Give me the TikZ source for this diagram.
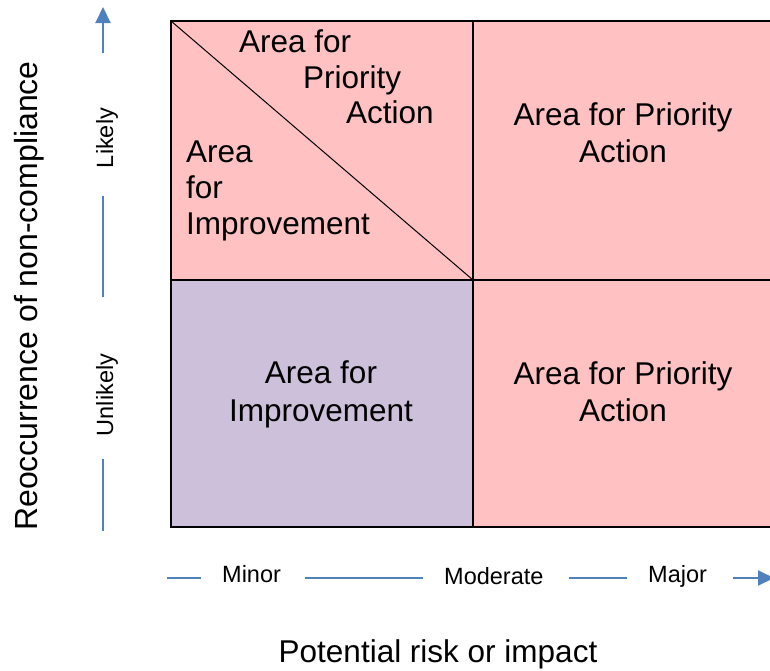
\documentclass[tikz,border=0pt]{standalone}
\usepackage{fontspec}
\setmainfont{Liberation Sans}
\usetikzlibrary{arrows.meta}
\definecolor{prio}{RGB}{255,193,193}
\definecolor{impr}{RGB}{204,192,218}
\definecolor{axisblue}{RGB}{79,129,189}
\begin{document}
\begin{tikzpicture}[x=1pt,y=-1pt,
  big/.style={inner sep=0pt,font=\fontsize{31.5}{36}\selectfont},
  small/.style={inner sep=0pt,font=\fontsize{23.5}{28}\selectfont},
  axisline/.style={draw=axisblue,line width=2pt},
  axisarrow/.style={axisline,-{Triangle[length=16pt,width=15pt]}},
  gridline/.style={draw=black,line width=2.2pt}]
\useasboundingbox (0,0) rectangle (770,670);
\clip (0,0) rectangle (770,670);

% quadrant coordinates
\coordinate (tl) at (171,21);
\coordinate (tm) at (473,21);
\coordinate (tr) at (780,21);
\coordinate (ml) at (171,280);
\coordinate (mm) at (473,280);
\coordinate (mr) at (780,280);
\coordinate (bl) at (171,527);
\coordinate (bm) at (473,527);
\coordinate (br) at (780,527);

% quadrant fills
\fill[prio] (tl) rectangle (mr);
\fill[prio] (mm) rectangle (br);
\fill[impr] (ml) rectangle (bm);

% split of the upper-left quadrant
\draw[line width=1pt] (tl) -- (mm);

% grid
\draw[gridline] (tr) -- (tl) -- (bl) -- (br);
\draw[gridline] (tm) -- (bm);
\draw[gridline] (ml) -- (mr);

% upper-left quadrant texts
\node[big,anchor=base west] (ulA) at (239,52) {Area for};
\node[big,anchor=base west] (ulB) at (303,88) {Priority};
\node[big,anchor=base west] (ulC) at (346,123) {Action};
\node[big,anchor=base west] (ulD) at (186,162) {Area};
\node[big,anchor=base west] (ulE) at (186,198) {for};
\node[big,anchor=base west] (ulF) at (186,234) {Improvement};

% upper-right quadrant
\node[big,anchor=base] (urA) at (623,125) {Area for Priority};
\node[big,anchor=base] (urB) at (623,162) {Action};

% lower-left quadrant
\node[big,anchor=base] (llA) at (321,383) {Area for};
\node[big,anchor=base] (llB) at (321,421) {Improvement};

% lower-right quadrant
\node[big,anchor=base] (lrA) at (623,384) {Area for Priority};
\node[big,anchor=base] (lrB) at (623,421) {Action};

% vertical axis
\node[inner sep=0pt,font=\fontsize{32}{36}\selectfont,anchor=base,rotate=90] (ytitle) at (37,296) {Reoccurrence of non-compliance};
\node[small,anchor=base,rotate=90] (likely) at (113,138) {Likely};
\node[small,anchor=base,rotate=90] (unlikely) at (113,395) {Unlikely};
\coordinate (ya0) at (103,531);
\coordinate (ya1) at (103,459);
\coordinate (ya2) at (103,297);
\coordinate (ya3) at (103,196);
\coordinate (ya4) at (103,53);
\coordinate (ya5) at (103,7);
\draw[axisline] (ya0) -- (ya1);
\draw[axisline] (ya2) -- (ya3);
\draw[axisarrow] (ya4) -- (ya5);

% horizontal axis
\node[small,anchor=base west] (minor) at (222,582) {Minor};
\node[small,anchor=base west] (moderate) at (444,584) {Moderate};
\node[small,anchor=base west] (major) at (648,582) {Major};
\node[big,anchor=base] (xtitle) at (438,662) {Potential risk or impact};
\coordinate (xa0) at (167,578);
\coordinate (xa1) at (201,578);
\coordinate (xa2) at (305,578);
\coordinate (xa3) at (423,578);
\coordinate (xa4) at (569,578);
\coordinate (xa5) at (627,578);
\coordinate (xa6) at (733,578);
\coordinate (xa7) at (774,578);
\draw[axisline] (xa0) -- (xa1);
\draw[axisline] (xa2) -- (xa3);
\draw[axisline] (xa4) -- (xa5);
\draw[axisarrow] (xa6) -- (xa7);
\end{tikzpicture}
\end{document}
